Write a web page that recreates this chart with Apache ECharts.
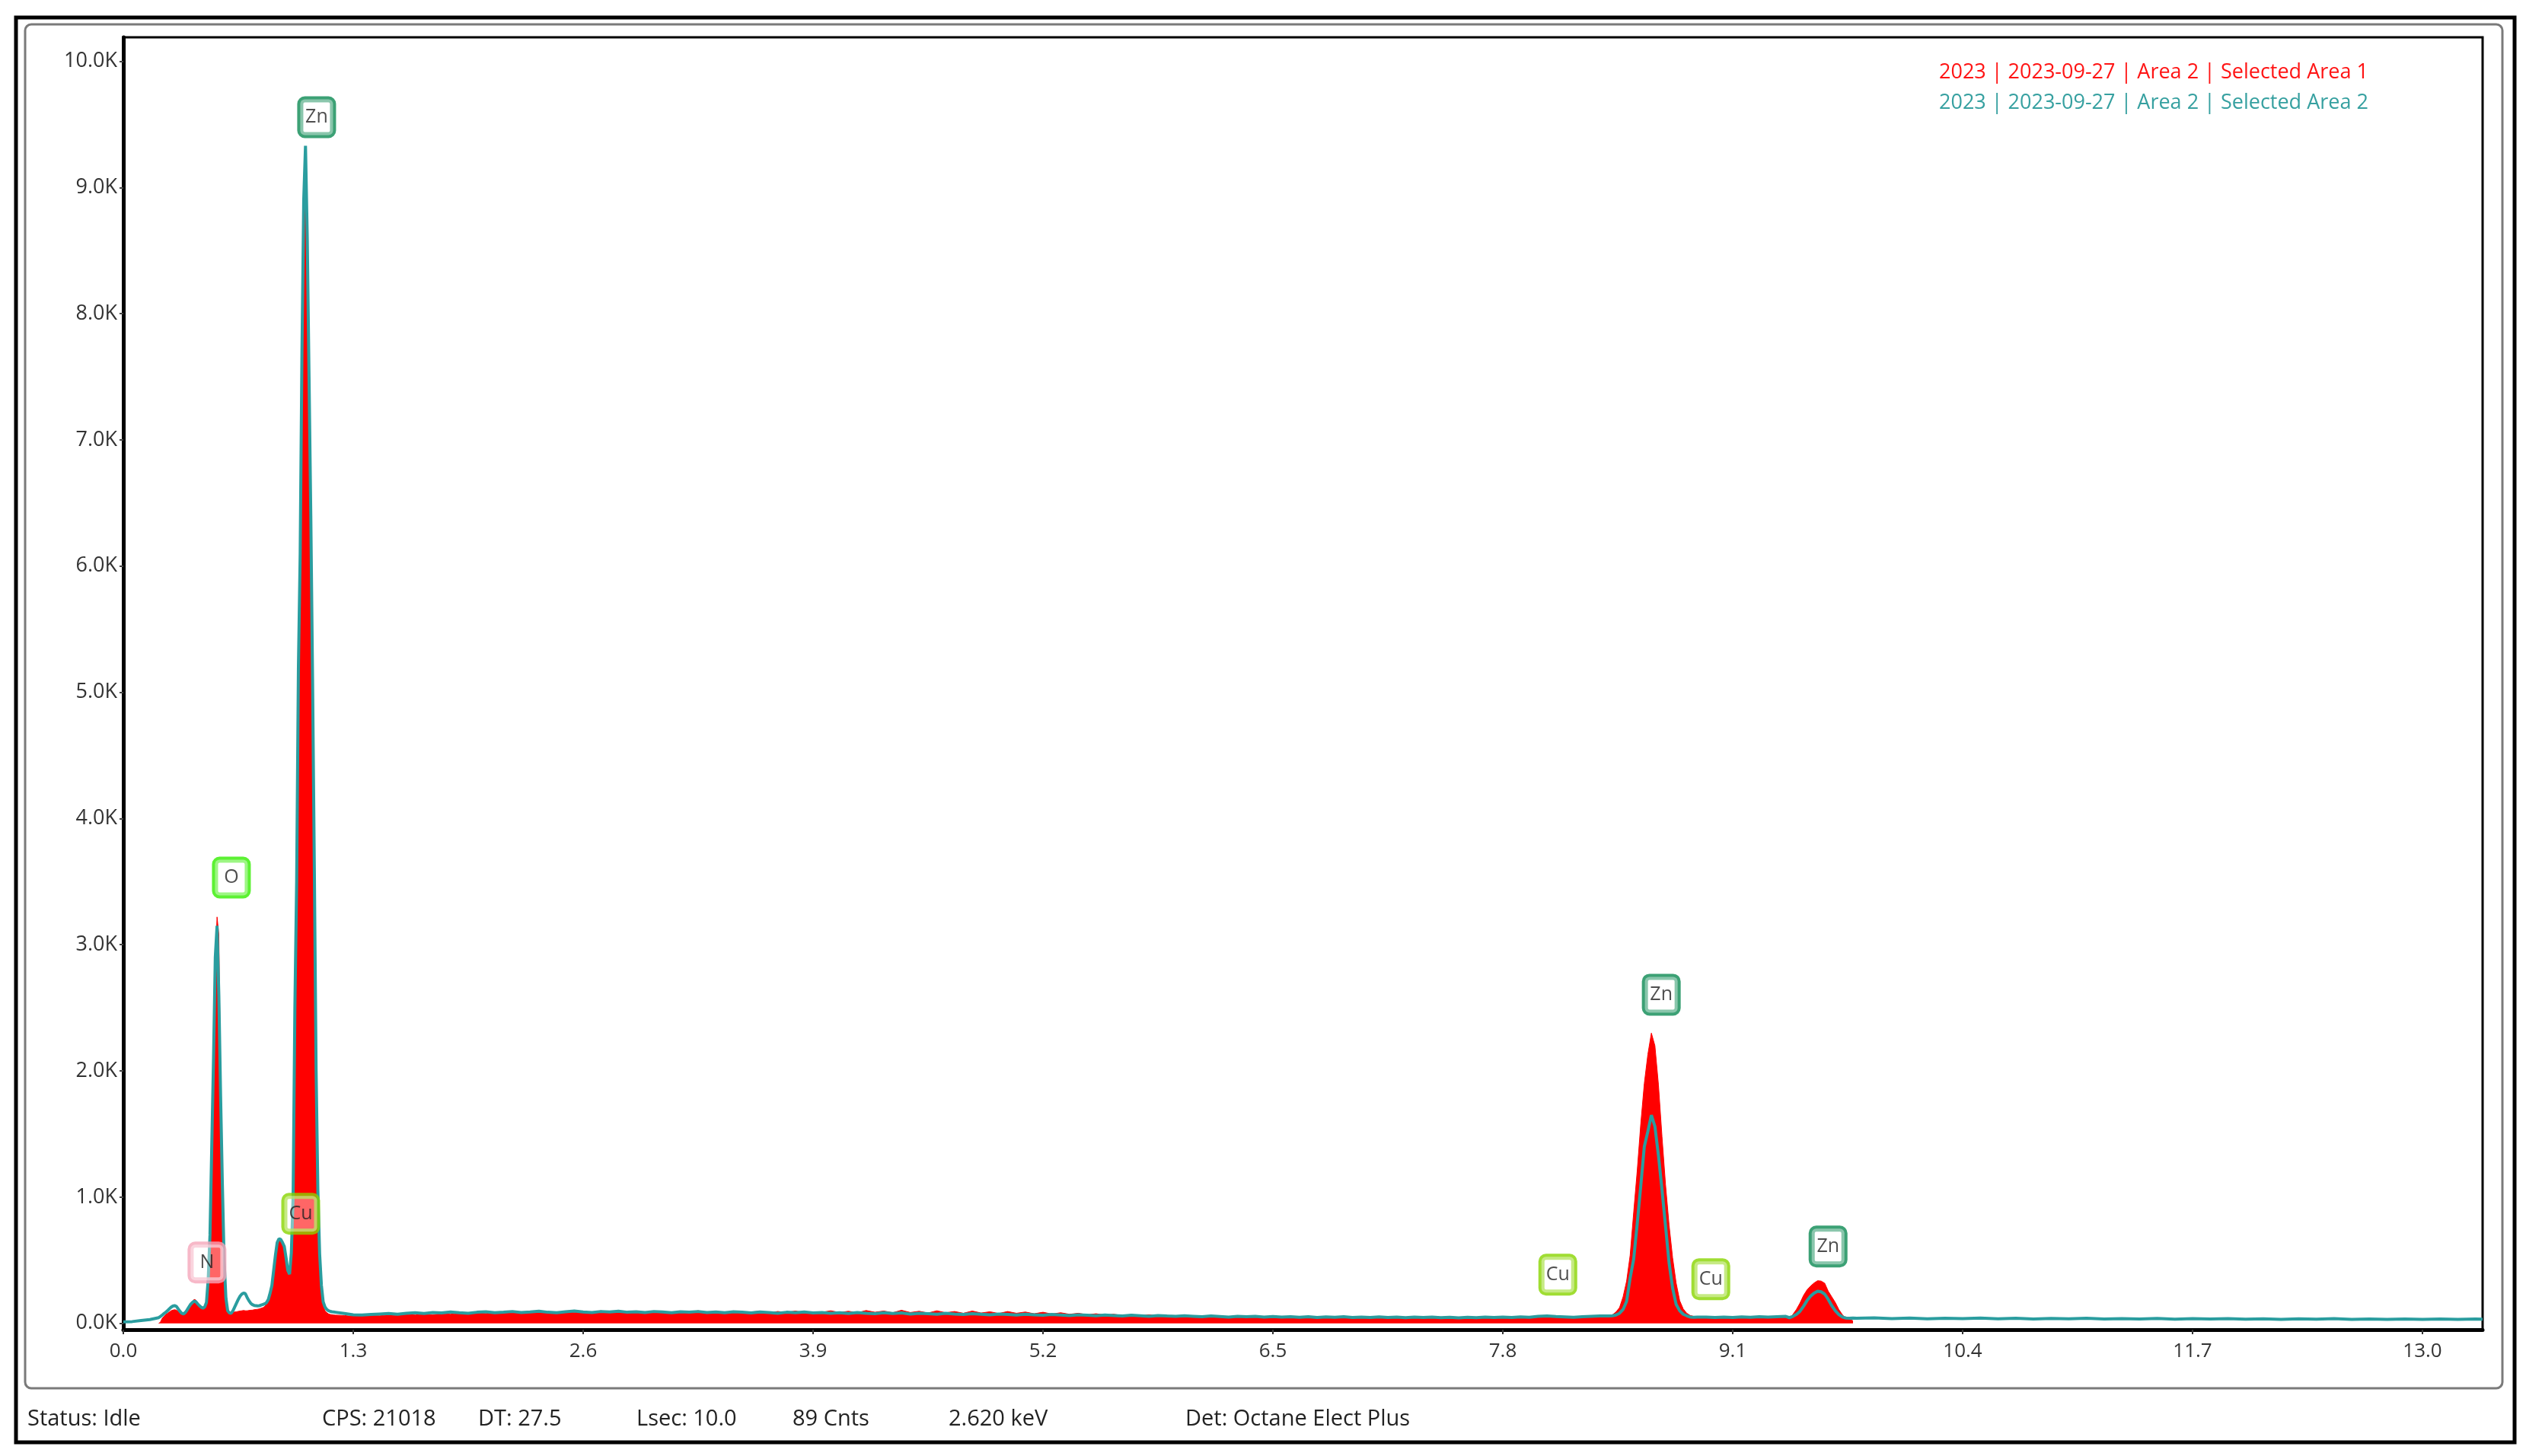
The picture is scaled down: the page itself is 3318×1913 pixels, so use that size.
<!DOCTYPE html>
<html>
<head>
<meta charset="utf-8">
<title>EDS spectrum</title>
<script src="https://cdn.jsdelivr.net/npm/echarts@6.0.0/dist/echarts.min.js"></script>
<style>
  html, body { margin: 0; padding: 0; background: #fff; }
  #chart { width: 3318px; height: 1913px; }
</style>
</head>
<body>
<div id="chart"></div>
<script>
// energy axis (keV), finer where the peaks are
const energy = [
  0.00, 0.05, 0.10, 0.15,
  0.20, 0.21, 0.22, 0.23, 0.24, 0.25, 0.26, 0.27, 0.28, 0.29,
  0.30, 0.31, 0.32, 0.33, 0.34, 0.35, 0.36, 0.37, 0.38, 0.39,
  0.40, 0.41, 0.42, 0.43, 0.44, 0.45, 0.46, 0.47, 0.48, 0.49,
  0.50, 0.51, 0.52, 0.53, 0.54, 0.55, 0.56, 0.57, 0.58, 0.59,
  0.60, 0.61, 0.62, 0.63, 0.64, 0.65, 0.66, 0.67, 0.68, 0.69,
  0.70, 0.71, 0.72, 0.73, 0.74, 0.75, 0.76, 0.77, 0.78, 0.79,
  0.80, 0.81, 0.82, 0.83, 0.84, 0.85, 0.86, 0.87, 0.88, 0.89,
  0.90, 0.91, 0.92, 0.93, 0.94, 0.95, 0.96, 0.97, 0.98, 0.99,
  1.00, 1.01, 1.02, 1.03, 1.04, 1.05, 1.06, 1.07, 1.08, 1.09,
  1.10, 1.11, 1.12, 1.13, 1.14, 1.15, 1.16, 1.17, 1.18, 1.19,
  1.20,
  1.25, 1.30, 1.35, 1.40, 1.45, 1.50, 1.55, 1.60, 1.65, 1.70, 1.75, 1.80, 1.85, 1.90, 1.95, 2.00,
  2.05, 2.10, 2.15, 2.20, 2.25, 2.30, 2.35, 2.40, 2.45, 2.50, 2.55, 2.60, 2.65, 2.70, 2.75, 2.80, 2.85, 2.90, 2.95, 3.00,
  3.05, 3.10, 3.15, 3.20, 3.25, 3.30, 3.35, 3.40, 3.45, 3.50, 3.55, 3.60, 3.65, 3.70, 3.75, 3.80, 3.85, 3.90, 3.95, 4.00,
  4.05, 4.10, 4.15, 4.20, 4.25, 4.30, 4.35, 4.40, 4.45, 4.50, 4.55, 4.60, 4.65, 4.70, 4.75, 4.80, 4.85, 4.90, 4.95, 5.00,
  5.05, 5.10, 5.15, 5.20, 5.25, 5.30, 5.35, 5.40, 5.45, 5.50, 5.55, 5.60, 5.65, 5.70, 5.75, 5.80, 5.85, 5.90, 5.95, 6.00,
  6.05, 6.10, 6.15, 6.20, 6.25, 6.30, 6.35, 6.40, 6.45, 6.50, 6.55, 6.60, 6.65, 6.70, 6.75, 6.80, 6.85, 6.90, 6.95, 7.00,
  7.05, 7.10, 7.15, 7.20, 7.25, 7.30, 7.35, 7.40, 7.45, 7.50, 7.55, 7.60, 7.65, 7.70, 7.75, 7.80, 7.85, 7.90, 7.95, 8.00,
  8.05, 8.10, 8.15, 8.20, 8.25, 8.30, 8.35,
  8.40, 8.42, 8.44, 8.46, 8.48, 8.50, 8.52, 8.54, 8.56, 8.58, 8.60, 8.62, 8.64,
  8.66, 8.68, 8.70, 8.72, 8.74, 8.76, 8.78, 8.80, 8.82, 8.84, 8.86, 8.88, 8.90,
  8.95, 9.00, 9.05, 9.10, 9.15, 9.20, 9.25, 9.30, 9.35, 9.40,
  9.42, 9.44, 9.46, 9.48, 9.50, 9.52, 9.54, 9.56, 9.58, 9.60,
  9.62, 9.64, 9.66, 9.68, 9.70, 9.72, 9.74, 9.76, 9.78,
  9.8, 9.9, 10.0, 10.1, 10.2, 10.3, 10.4, 10.5, 10.6, 10.7,
  10.8, 10.9, 11.0, 11.1, 11.2, 11.3, 11.4, 11.5, 11.6, 11.7,
  11.8, 11.9, 12.0, 12.1, 12.2, 12.3, 12.4, 12.5, 12.6, 12.7,
  12.8, 12.9, 13.0, 13.1, 13.2, 13.3, 13.34
];

// Selected Area 1 (red, filled)
const area1 = [
  null, null, null, null,
  0, 10, 40, 55, 70, 80, 90, 100, 105, 108,
  105, 95, 85, 80, 85, 95, 110, 125, 140, 160,
  190, 185, 150, 130, 120, 115, 125, 160, 340, 680,
  1350, 2050, 2850, 3220, 3080, 1900, 1150, 520, 210, 110,
  90, 85, 88, 90, 92, 95, 98, 100, 102, 100,
  100, 102, 104, 105, 108, 110, 112, 115, 120, 125,
  135, 150, 180, 230, 290, 410, 530, 630, 660, 650,
  625, 590, 500, 410, 380, 540, 950, 2400, 3400, 5000,
  5900, 7500, 8700, 9200, 8400, 7300, 6200, 4900, 3400, 1850,
  950, 480, 250, 140, 100, 85, 75, 70, 68, 66,
  65,
  62, 55, 58, 62, 60, 66, 62, 70, 66, 72, 68, 76, 72, 80, 74, 82,
  78, 86, 80, 90, 82, 96, 84, 92, 80, 98, 86, 94, 82, 100, 86, 92, 84, 98, 82, 90,
  96, 82, 94, 86, 100, 84, 92, 86, 98, 84, 90, 96, 82, 94, 86, 98, 84, 92, 88, 100,
  86, 96, 84, 102, 88, 98, 84, 104, 86, 96, 82, 100, 84, 94, 80, 98, 82, 92, 78, 94,
  80, 90, 76, 88, 74, 84, 72, 80, 68, 76, 66, 72, 62, 70, 60, 68, 58, 64, 56, 62,
  55, 60, 52, 58, 50, 56, 50, 54, 48, 55, 48, 52, 46, 53, 47, 52, 45, 50, 46, 52,
  45, 50, 44, 50, 46, 52, 44, 49, 45, 51, 44, 50, 46, 52, 47, 53, 48, 55, 50, 56,
  52, 57, 50, 48, 52, 56, 62,
  60, 68, 90, 125, 210, 335, 540, 880, 1210, 1580, 1900, 2130, 2300,
  2200, 1890, 1480, 1100, 780, 520, 320, 180, 115, 80, 62, 55, 52,
  48, 52, 46, 52, 48, 53, 47, 52, 50, 57,
  40, 70, 110, 160, 220, 265, 295, 320, 338, 335,
  318, 255, 210, 165, 110, 68, 40, 32, 20,
  null, null, null, null, null, null, null, null, null, null,
  null, null, null, null, null, null, null, null, null, null,
  null, null, null, null, null, null, null, null, null, null,
  null, null, null, null, null, null, null
];

// Selected Area 2 (teal line)
const area2 = [
  12, 14, 22, 30,
  45, 55, 65, 78, 88, 100, 115, 128, 137, 140,
  135, 115, 95, 80, 75, 85, 105, 128, 150, 165,
  175, 172, 155, 140, 128, 120, 130, 165, 350, 700,
  1400, 2100, 2900, 3150, 2600, 1800, 1100, 500, 200, 100,
  82, 80, 100, 130, 160, 190, 215, 232, 240, 235,
  205, 180, 160, 148, 142, 140, 138, 140, 145, 150,
  155, 165, 190, 240, 300, 420, 540, 640, 670, 665,
  640, 610, 520, 420, 390, 560, 1000, 2500, 3500, 5200,
  6100, 7700, 8900, 9330, 8600, 7500, 6400, 5100, 3600, 2000,
  1050, 550, 300, 170, 130, 110, 100, 95, 92, 90,
  88,
  78, 68, 66, 70, 74, 78, 72, 80, 84, 78, 86, 82, 90, 84, 80, 88,
  92, 84, 88, 94, 86, 90, 96, 88, 84, 92, 98, 90, 86, 94, 90, 96, 88, 92, 86, 94,
  90, 84, 92, 88, 94, 86, 90, 84, 92, 88, 82, 90, 86, 80, 88, 84, 90, 82, 86, 80,
  84, 78, 86, 80, 76, 84, 78, 82, 74, 80, 76, 72, 80, 74, 70, 76, 72, 68, 74, 70,
  66, 72, 68, 64, 70, 66, 62, 68, 64, 60, 66, 62, 58, 64, 60, 56, 62, 58, 55, 60,
  56, 52, 58, 54, 50, 56, 52, 55, 50, 54, 49, 53, 48, 52, 47, 51, 48, 52, 46, 50,
  47, 51, 46, 50, 45, 49, 46, 50, 45, 48, 44, 48, 45, 49, 46, 50, 47, 51, 48, 56,
  58, 54, 51, 48, 52, 55, 58,
  58, 60, 66, 80, 110, 175, 360, 510, 790, 1090, 1400, 1520, 1650,
  1560, 1330, 1060, 770, 480, 280, 150, 100, 72, 60, 50, 48, 50,
  50, 46, 50, 47, 51, 48, 52, 49, 53, 55,
  45, 55, 70, 95, 135, 180, 215, 240, 255, 250,
  232, 190, 140, 100, 70, 50, 42, 40, 42,
  40, 44, 38, 42, 36, 41, 37, 42, 36, 40,
  35, 39, 36, 40, 34, 38, 35, 39, 33, 37,
  34, 38, 33, 36, 32, 36, 33, 37, 32, 35,
  31, 35, 32, 35, 31, 34, 33
];

const seriesNames = [
  '2023 | 2023-09-27 | Area 2 | Selected Area 1',
  '2023 | 2023-09-27 | Area 2 | Selected Area 2'
];

const xTicks = [0, 1.3, 2.6, 3.9, 5.2, 6.5, 7.8, 9.1, 10.4, 11.7, 13.0];
const yTicks = [0, 1000, 2000, 3000, 4000, 5000, 6000, 7000, 8000, 9000, 10000];

// element tags: name, keV, counts (centre of the tag box)
const tagNames = ['Zn', 'O', 'N', 'Cu', 'Cu', 'Zn', 'Cu', 'Zn'];
const tagKeV = [1.093, 0.611, 0.473, 1.003, 8.111, 8.696, 8.976, 9.639];
const tagCounts = [9557, 3532, 482, 868, 386, 2604, 350, 609];

const statusTexts = ['Status: Idle', 'CPS: 21018', 'DT: 27.5', 'Lsec: 10.0', '89 Cnts', '2.620 keV', 'Det: Octane Elect Plus'];

// styling
const FONT = '"Open Sans", "Noto Sans", sans-serif';
const RED = '#ff0000';
const TEAL = '#2a9d9f';
const tagColor = { Zn: '#0b8a52', O: '#33ee00', Cu: '#88d400', N: '#f5a6ba' };
const statusLeft = [36, 423, 628, 836, 1041, 1246, 1557];

const chart = echarts.init(document.getElementById('chart'));

const data1 = energy.map((e, i) => [e, area1[i]]);
const data2 = energy.map((e, i) => [e, area2[i]]);
const tagData = tagNames.map((n, i) => ({
  name: n,
  value: [tagKeV[i], tagCounts[i]],
  label: { borderColor: tagColor[n] }
}));

const option = {
  animation: false,
  backgroundColor: '#fff',
  textStyle: { fontFamily: FONT },
  grid: {
    left: 162, right: 57, top: 49, bottom: 166,
    show: true, borderColor: '#000', borderWidth: 3, backgroundColor: 'transparent'
  },
  legend: {
    orient: 'vertical',
    left: 2537,
    top: 77,
    itemWidth: 0,
    itemHeight: 27,
    itemGap: 13,
    selectedMode: false,
    icon: 'rect',
    textStyle: { fontSize: 27, fontFamily: FONT },
    data: [
      { name: seriesNames[0], textStyle: { color: '#ff1414' } },
      { name: seriesNames[1], textStyle: { color: '#36a0a0' } }
    ]
  },
  xAxis: {
    type: 'value',
    min: 0,
    max: 13.34,
    axisLine: { show: true, onZero: false, lineStyle: { color: '#000', width: 5 } },
    axisTick: { show: true, customValues: xTicks, length: 6, lineStyle: { color: '#333', width: 2 } },
    axisLabel: {
      customValues: xTicks,
      formatter: v => v.toFixed(1),
      color: '#333', fontSize: 26, fontFamily: FONT, margin: 16
    },
    splitLine: { show: false }
  },
  yAxis: {
    type: 'value',
    min: -50,
    max: 10190,
    axisLine: { show: true, onZero: false, lineStyle: { color: '#000', width: 5 } },
    axisTick: { show: true, customValues: yTicks, length: 5, lineStyle: { color: '#444', width: 2 } },
    axisLabel: {
      customValues: yTicks,
      formatter: v => (v / 1000).toFixed(1) + 'K',
      color: '#333', fontSize: 27, fontFamily: FONT, margin: 8
    },
    splitLine: { show: false }
  },
  series: [
    {
      name: seriesNames[0],
      type: 'line',
      data: data1,
      showSymbol: false,
      connectNulls: false,
      z: 2,
      lineStyle: { color: RED, width: 1 },
      itemStyle: { color: RED },
      areaStyle: { color: RED, opacity: 1 }
    },
    {
      name: seriesNames[1],
      type: 'line',
      data: data2,
      showSymbol: false,
      z: 3,
      lineStyle: { color: TEAL, width: 4 },
      itemStyle: { color: TEAL }
    },
    {
      type: 'scatter',
      data: tagData,
      symbolSize: 1,
      clip: false,
      z: 5,
      itemStyle: { color: 'transparent' },
      label: {
        show: true,
        position: 'inside',
        formatter: '{b}',
        color: '#222',
        fontSize: 25,
        fontFamily: FONT,
        width: 43,
        height: 47,
        lineHeight: 47,
        align: 'center',
        verticalAlign: 'middle',
        backgroundColor: 'rgba(255,255,255,0.5)',
        borderWidth: 4,
        borderRadius: 6
      }
    }
  ],
  graphic: [
    {
      type: 'rect', z: -1, silent: true,
      shape: { x: 21, y: 23, width: 3282, height: 1872 },
      style: { fill: 'none', stroke: '#000', lineWidth: 5 }
    },
    {
      type: 'rect', z: -1, silent: true,
      shape: { x: 33, y: 32, width: 3254, height: 1792, r: 8 },
      style: { fill: 'none', stroke: '#7a7a7a', lineWidth: 3 }
    }
  ].concat(statusTexts.map((t, i) => ({
    type: 'text', silent: true,
    left: statusLeft[i], top: 1850,
    style: { text: t, fill: '#222', font: '29px ' + FONT }
  })))
};

chart.setOption(option);
</script>
</body>
</html>
